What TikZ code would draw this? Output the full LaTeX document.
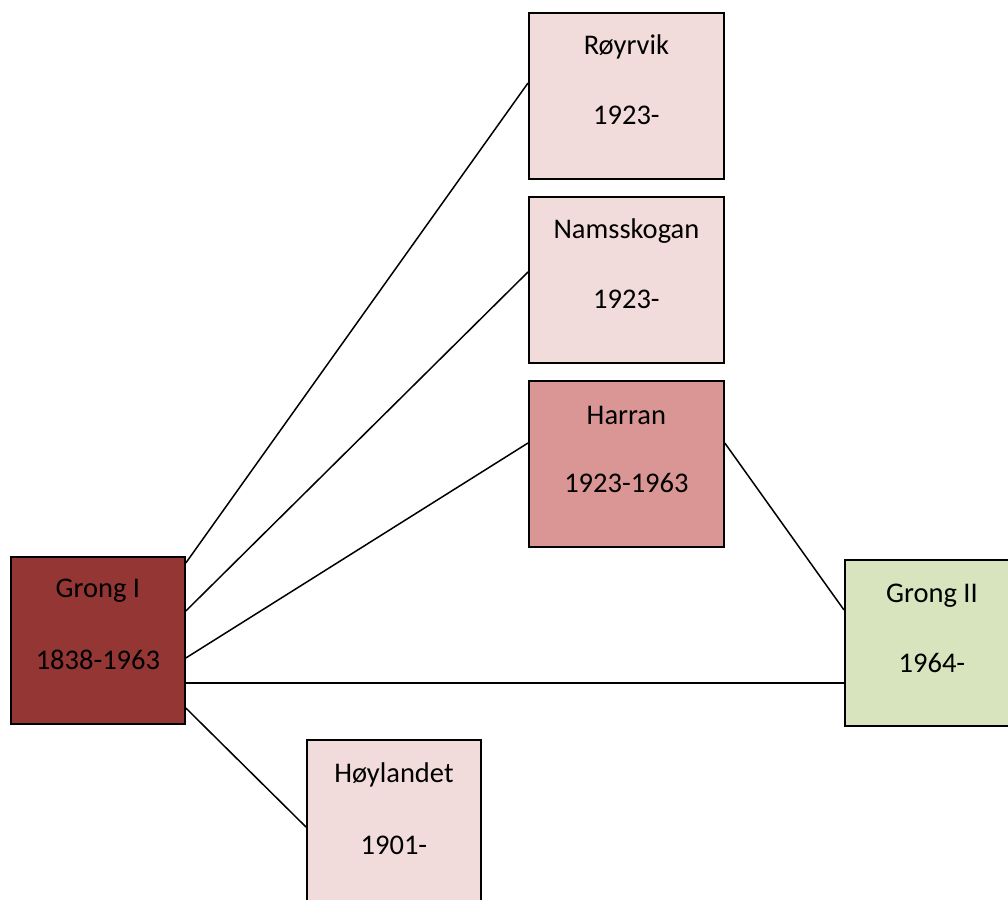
\documentclass[tikz,border=0pt]{standalone}
\usepackage{fontspec}
\setmainfont{Carlito}
\usetikzlibrary{calc}
\definecolor{dkred}{HTML}{943634}
\definecolor{ltpink}{HTML}{F2DCDB}
\definecolor{midpink}{HTML}{D99694}
\definecolor{ltgreen}{HTML}{D7E4BD}
\begin{document}
\begin{tikzpicture}[x=1pt,y=-1pt,
  box/.style={draw=black, line width=1.8pt, minimum height=166pt, anchor=north west, inner sep=0pt},
  txt/.style={font=\fontsize{28.5}{34}\selectfont, text=black, inner sep=0pt},
  conn/.style={draw=black, line width=1.5pt}]
\path[use as bounding box] (0,0) rectangle (1008,899);
\begin{scope}
\clip (0,0) rectangle (1008,899);
\node[box, minimum width=195pt, fill=ltpink] (roy) at (528,12) {};
\node[box, minimum width=195pt, fill=ltpink] (nam) at (528,196) {};
\node[box, minimum width=195pt, fill=midpink] (har) at (528,380) {};
\node[box, minimum width=174pt, minimum height=167pt, fill=dkred] (g1) at (10,556) {};
\node[box, minimum width=174pt, fill=ltgreen] (g2) at (844,559) {};
\node[box, minimum width=174pt, fill=ltpink] (hoy) at (306,739) {};

\node[txt] (roy-n) at ($(roy.north)+(0,35)$) {Røyrvik};
\node[txt] (roy-y) at ($(roy.north)+(0,103)$) {1923-};
\node[txt] (nam-n) at ($(nam.north)+(0,35)$) {Namsskogan};
\node[txt] (nam-y) at ($(nam.north)+(0,103)$) {1923-};
\node[txt] (har-n) at ($(har.north)+(0,35)$) {Harran};
\node[txt] (har-y) at ($(har.north)+(0,103)$) {1923-1963};
\node[txt] (g1-n) at ($(g1.north)+(0,35)$) {Grong I};
\node[txt] (g1-y) at ($(g1.north)+(0,104)$) {1838-1963};
\node[txt] (g2-n) at ($(g2.north)+(0,37)$) {Grong II};
\node[txt] (g2-y) at ($(g2.north)+(0,104)$) {1964-};
\node[txt] (hoy-n) at ($(hoy.north)+(0,36)$) {Høylandet};
\node[txt] (hoy-y) at ($(hoy.north)+(0,106)$) {1901-};

\draw[conn] ($(g1.north east)+(0,7)$) -- ($(roy.north west)+(0,71)$);
\draw[conn] ($(g1.north east)+(0,55)$) -- ($(nam.north west)+(0,76)$);
\draw[conn] ($(g1.north east)+(0,102)$) -- ($(har.north west)+(0,63)$);
\draw[conn] ($(g1.north east)+(0,127)$) -- ($(g2.north west)+(0,124)$);
\draw[conn] ($(g1.north east)+(0,152)$) -- ($(hoy.north west)+(0,88)$);
\draw[conn] ($(har.north east)+(0,63)$) -- ($(g2.north west)+(0,51)$);
\end{scope}
\end{tikzpicture}
\end{document}
